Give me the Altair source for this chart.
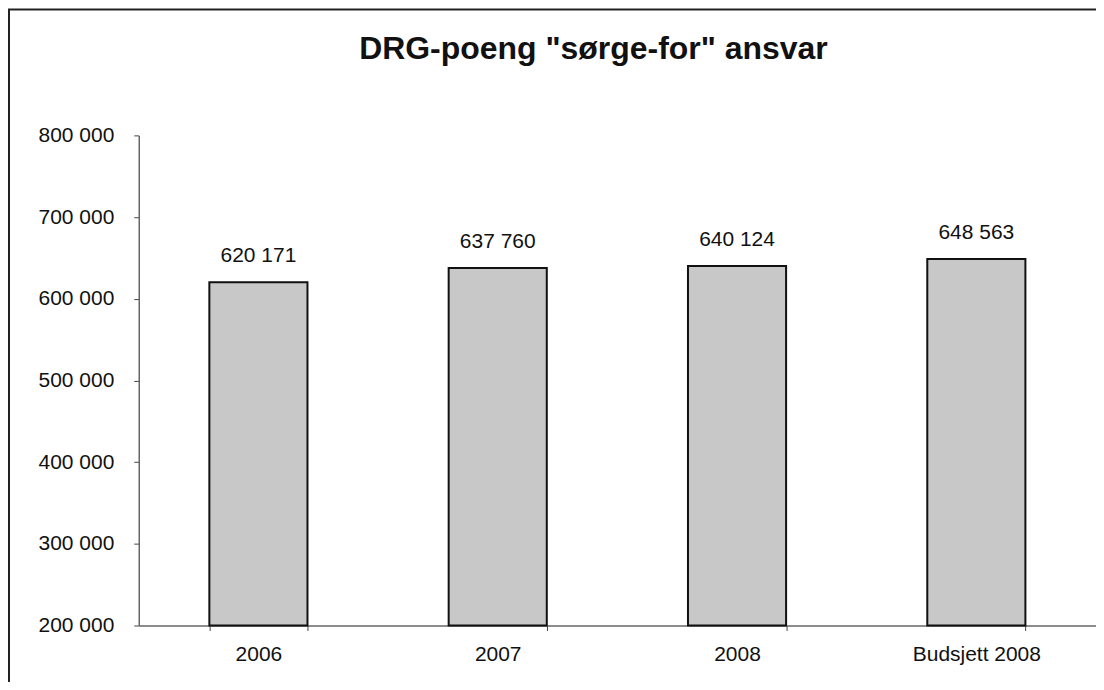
import altair as alt
import pandas as pd

categories = ["2006", "2007", "2008", "Budsjett 2008"]
values = [620171, 637760, 640124, 648563]
y_ticks = [200000, 300000, 400000, 500000, 600000, 700000, 800000]

df = pd.DataFrame({
    "cat": categories,
    "val": values,
    "lbl": [f"{v:,}".replace(",", " ") for v in values],
})

FONT = "Liberation Sans"

base = alt.Chart(df)

x_enc = alt.X(
    "cat:N", sort=categories, title=None,
    scale=alt.Scale(paddingInner=0.59, paddingOuter=0.295),
    axis=alt.Axis(labelAngle=0, tickBand="extent", labelFontSize=21, labelFont=FONT,
                  labelColor="#111", labelPadding=13, tickSize=5, tickColor="#444",
                  domainColor="#666", domainWidth=1.5),
)
y_enc = alt.Y(
    "val:Q", title=None,
    scale=alt.Scale(domain=[200000, 800000], zero=False, clamp=True, nice=False),
    axis=alt.Axis(values=y_ticks, grid=False, labelFontSize=21, labelFont=FONT,
                  labelColor="#111", labelPadding=20, tickSize=5, tickColor="#444",
                  domainColor="#666", domainWidth=1.5,
                  labelExpr="replace(format(datum.value, ','), ',', ' ')"),
)

bars = base.mark_bar(fill="#c8c8c8", stroke="#111", strokeWidth=2).encode(
    x=x_enc, y=y_enc
)

labels = base.mark_text(baseline="alphabetic", dy=-20, fontSize=21, font=FONT,
                        color="#111").encode(
    x=alt.X("cat:N", sort=categories),
    y=alt.Y("val:Q"),
    text="lbl:N",
)

border = alt.Chart(alt.Data(values=[{"a": 1}])).mark_rect(
    fillOpacity=0, stroke="#222", strokeWidth=2, clip=False
).encode(
    x=alt.value(-130), x2=alt.value(2000), y=alt.value(-126), y2=alt.value(2000)
)

chart = alt.layer(border, bars, labels).properties(
    width=959,
    height=491,
    autosize=alt.AutoSizeParams(type="none"),
    padding={"left": 131, "top": 127, "right": 0, "bottom": 56},
    title=alt.TitleParams(
        'DRG-poeng "sørge-for" ansvar', font=FONT, fontSize=32, fontWeight="bold",
        color="#111", anchor="middle", frame="group", baseline="alphabetic",
        offset=-82, dx=-24,
    ),
).configure(background="white", view=alt.ViewConfig(stroke=None))

chart.save("out.html", embed_options={"renderer": "svg", "actions": False})
